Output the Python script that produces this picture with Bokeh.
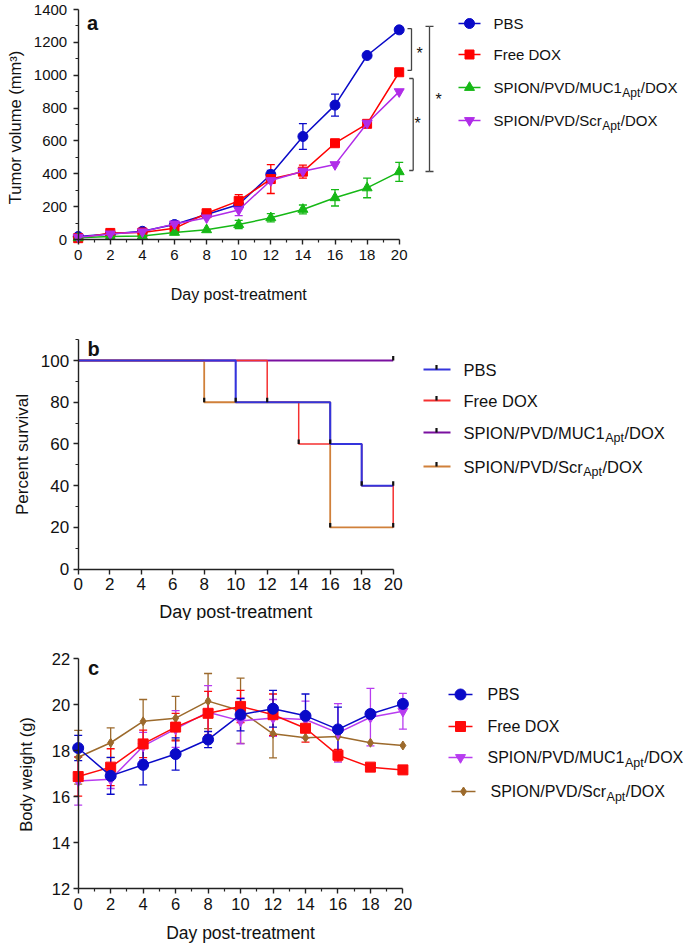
import math
from bokeh.plotting import figure
from bokeh.models import Range1d, FixedTicker, Label
from bokeh.layouts import column
from bokeh.core.properties import value
from bokeh.embed import file_html
from bokeh.resources import INLINE

FONT = "Liberation Sans"

# ---------------- data ----------------
days = [0, 2, 4, 6, 8, 10, 12, 14, 16, 18, 20]
labels_a = ["PBS", "Free DOX", "SPION/PVD/MUC1|Apt|/DOX", "SPION/PVD/Scr|Apt|/DOX"]
labels_b = ["PBS", "Free DOX", "SPION/PVD/MUC1|Apt|/DOX", "SPION/PVD/Scr|Apt|/DOX"]
labels_c = ["PBS", "Free DOX", "SPION/PVD/MUC1|Apt|/DOX", "SPION/PVD/Scr|Apt|/DOX"]

# panel a: tumor volume (mm3)
vol_pbs = [18, 34, 50, 91, 152, 213, 396, 627, 818, 1120, 1276]
vol_pbs_err = [0, 0, 6, 12, 15, 15, 25, 78, 67, 0, 0]
vol_dox = [8, 40, 42, 68, 160, 235, 368, 413, 586, 704, 1018]
vol_dox_err = [0, 0, 0, 0, 15, 38, 88, 40, 0, 0, 0]
vol_muc = [10, 18, 22, 43, 59, 91, 132, 183, 254, 314, 412]
vol_muc_err = [0, 0, 0, 0, 0, 25, 25, 27, 50, 60, 58]
vol_scr = [14, 34, 47, 95, 132, 180, 359, 416, 456, 708, 900]
vol_scr_err = [0, 0, 0, 20, 0, 35, 0, 0, 0, 0, 0]

# significance brackets (panel a)
sig_lo = [1029, 420, 414]
sig_hi = [1284, 980, 1297]

# panel b: percent survival (Kaplan-Meier steps)
surv_pbs_t = [0, 10, 16, 18, 20]
surv_pbs = [100, 80, 60, 40, 40]
surv_dox_t = [0, 12, 14, 18, 20]
surv_dox = [100, 80, 60, 40, 20]
surv_muc_t = [0, 20]
surv_muc = [100, 100]
surv_scr_t = [0, 8, 16, 20]
surv_scr = [100, 80, 20, 20]
cens_t = [8, 10, 12, 14, 16, 16, 18, 20, 20, 20]
cens_s = [80, 80, 80, 60, 60, 20, 40, 40, 20, 100]

# panel c: body weight (g)
bw_pbs = [18.12, 16.91, 17.39, 17.86, 18.49, 19.57, 19.83, 19.52, 18.93, 19.6, 20.04]
bw_pbs_err = [0.55, 0.8, 0.87, 0.7, 0.35, 0.7, 0.8, 0.95, 0.97, 0, 0]
bw_dox = [16.88, 17.29, 18.3, 19.03, 19.63, 19.93, 19.57, 18.98, 17.81, 17.29, 17.17]
bw_dox_err = [0.85, 0.8, 0.6, 0.6, 0.95, 0.7, 0.9, 0.6, 0.25, 0, 0]
bw_muc = [16.69, 16.76, 18.2, 18.95, 19.68, 19.3, 19.43, 19.36, 18.78, 19.46, 19.72]
bw_muc_err = [1.05, 0.4, 0.6, 0.8, 1.15, 1.0, 0.8, 0.8, 1.27, 1.25, 0.78]
bw_scr = [17.72, 18.35, 19.28, 19.42, 20.16, 19.74, 18.74, 18.57, 18.62, 18.35, 18.23]
bw_scr_err = [1.17, 0.65, 0.95, 0.95, 1.2, 1.42, 1.05, 0, 0, 0, 0]

AX = "#222222"
TXT = "#111111"
W = 685
WMAIN = {"SPION/PVD/MUC1": 8557, "SPION/PVD/Scr": 7224}  # Arial advance widths (1/1000 em)


class Panel:
    """Maps page pixel positions (layout only) to the panel's data space."""

    def __init__(self, top, height, x0px, xppd, y_ref_val, y_ref_px, yppu):
        self.top, self.height = top, height
        self.x0px, self.xppd = x0px, xppd
        self.yv, self.ypx, self.yppu = y_ref_val, y_ref_px, yppu

    def X(self, px):
        return (px - self.x0px) / self.xppd

    def Y(self, py):
        return self.yv + (self.ypx - py) / self.yppu

    def fig(self, tick_fs, xstand, ystand, xt, xminor, yt, yminor, xb, yb, yfix):
        p = figure(width=W, height=self.height,
                   x_range=Range1d(self.X(0), self.X(W)),
                   y_range=Range1d(self.Y(self.top + self.height), self.Y(self.top)),
                   output_backend="svg", toolbar_location=None)
        p.min_border = 0
        p.min_border_left = 0
        p.min_border_right = 0
        p.min_border_top = 0
        p.min_border_bottom = 0
        p.outline_line_color = None
        p.grid.visible = False
        for ax in (p.xaxis[0], p.yaxis[0]):
            ax.axis_line_color = AX
            ax.axis_line_width = 1.4
            ax.major_tick_line_color = AX
            ax.minor_tick_line_color = AX
            ax.major_tick_line_width = 1.4
            ax.minor_tick_line_width = 1.2
            ax.major_tick_out = 5
            ax.major_tick_in = 0
            ax.minor_tick_out = 3
            ax.minor_tick_in = 0
            ax.major_label_text_font = FONT
            ax.major_label_text_font_size = tick_fs
            ax.major_label_text_color = TXT
        p.xaxis[0].ticker = FixedTicker(ticks=xt, minor_ticks=xminor)
        p.yaxis[0].ticker = FixedTicker(ticks=yt, minor_ticks=yminor)
        p.xaxis[0].bounds = xb
        p.yaxis[0].bounds = yb
        p.xaxis[0].fixed_location = yfix
        p.yaxis[0].fixed_location = 0
        p.xaxis[0].major_label_standoff = xstand
        p.yaxis[0].major_label_standoff = ystand
        self.p = p
        return p

    def titles(self, xtitle, xpos, xfs, ytitle, ypos, yfs, letter, lpos):
        p = self.p
        p.add_layout(Label(x=10, y=self.Y(xpos[1]), text=xtitle, text_align="center",
                           text_baseline="middle", text_font=FONT, text_font_size=xfs,
                           text_color=TXT))
        p.add_layout(Label(x=self.X(ypos[0]), y=self.Y(ypos[1]), text=ytitle, angle=math.pi / 2,
                           text_align="center", text_baseline="middle", text_font=FONT,
                           text_font_size=yfs, text_color=TXT))
        p.add_layout(Label(x=self.X(lpos[0]), y=self.Y(lpos[1]), text=letter, text_align="center",
                           text_baseline="middle", text_font=FONT, text_font_size="20px",
                           text_font_style="bold", text_color=TXT))

    def legend_text(self, px, py, label, fs, subfs, subdy):
        p = self.p
        x, y = self.X(px), self.Y(py)
        parts = label.split("|")
        p.text(x=[x], y=[y], text=[parts[0]], text_font=value(FONT), text_font_size=fs,
               text_baseline="middle", text_align="left", text_color=TXT)
        if len(parts) > 1:
            fpx = float(fs.replace("px", ""))
            spx = float(subfs.replace("px", ""))
            w0 = WMAIN[parts[0]] * fpx / 1000.0
            w1 = 1501 * spx / 1000.0
            p.text(x=[x], y=[y], text=[parts[1]], x_offset=w0 + 0.5, y_offset=subdy,
                   text_font=value(FONT), text_font_size=subfs, text_baseline="middle",
                   text_align="left", text_color=TXT)
            p.text(x=[x], y=[y], text=[parts[2]], x_offset=w0 + w1 + 1, text_font=value(FONT),
                   text_font_size=fs, text_baseline="middle", text_align="left", text_color=TXT)


def errbars(p, x, y, e, color, cap=8, lw=1.3):
    keep = [i for i, v in enumerate(e) if v > 0]
    xs = [x[i] for i in keep]
    los = [y[i] - e[i] for i in keep]
    his = [y[i] + e[i] for i in keep]
    p.segment(x0=xs, y0=los, x1=xs, y1=his, line_color=color, line_width=lw)
    p.scatter(x=xs + xs, y=los + his, marker="dash", size=cap, line_color=color, line_width=lw)


# ---------------- panel a ----------------
A = Panel(top=0, height=310, x0px=77.7, xppd=16.05, y_ref_val=0, y_ref_px=239, yppu=230 / 1400)
pa = A.fig("15px", 5, 6, list(range(0, 21, 2)), list(range(1, 20, 2)),
           list(range(0, 1401, 200)), list(range(100, 1400, 200)), (0, 20), (0, 1400), 0)
A.titles("Day post-treatment", (239, 294), "16px", "Tumor volume (mm³)", (14, 127), "16.5px",
         "a", (92, 22))

ser_a = [
    (vol_pbs, vol_pbs_err, "#0a0ac8", "circle", 10),
    (vol_dox, vol_dox_err, "#ff0000", "square", 9),
    (vol_muc, vol_muc_err, "#16b816", "triangle", 10),
    (vol_scr, vol_scr_err, "#b02ce8", "inverted_triangle", 10),
]
for vals, err, col, mk, sz in ser_a:
    errbars(pa, days, vals, err, col)
for vals, err, col, mk, sz in ser_a:
    pa.line(days, vals, line_color=col, line_width=1.5)
    pa.scatter(days, vals, marker=mk, size=sz, fill_color=col, line_color=col)

# significance brackets and stars
SIG = "#444444"
sig_x = [A.X(411), A.X(412.7), A.X(429)]
serif = 4 / A.xppd
pa.segment(x0=sig_x, y0=sig_lo, x1=sig_x, y1=sig_hi, line_color=SIG, line_width=1.3)
pa.segment(x0=[v - serif for v in sig_x], y0=sig_hi, x1=sig_x, y1=sig_hi, line_color=SIG, line_width=1.3)
pa.segment(x0=[v - serif for v in sig_x], y0=sig_lo, x1=sig_x, y1=sig_lo, line_color=SIG, line_width=1.3)
pa.segment(x0=[sig_x[2]] * 2, y0=[sig_hi[2], sig_lo[2]], x1=[sig_x[2] + serif] * 2,
           y1=[sig_hi[2], sig_lo[2]], line_color=SIG, line_width=1.3)
pa.text(x=[A.X(419), A.X(417), A.X(438)], y=[A.Y(53), A.Y(123), A.Y(99)], text=["*"] * 3,
        text_font=value(FONT), text_font_size="16px", text_align="center",
        text_baseline="middle", text_color=TXT)

for (vals, err, col, mk, sz), lab, py in zip(ser_a, labels_a, [23, 54, 87, 120]):
    pa.segment(x0=[A.X(458)], y0=[A.Y(py)], x1=[A.X(480)], y1=[A.Y(py)], line_color=col, line_width=1.5)
    pa.scatter([A.X(469)], [A.Y(py)], marker=mk, size=sz, fill_color=col, line_color=col)
    A.legend_text(493, py, lab, "15px", "12px", 5)

# ---------------- panel b ----------------
B = Panel(top=310, height=310, x0px=77.7, xppd=15.75, y_ref_val=0, y_ref_px=568.7, yppu=2.087)
pb = B.fig("17px", 4, 4, list(range(0, 21, 2)), [],
           list(range(0, 101, 20)), list(range(10, 111, 20)), (0, 20), (0, 110), 0)
B.titles("Day post-treatment", (236, 611), "18px", "Percent survival", (22, 454), "17px",
         "b", (93, 348))

ser_b = [
    (surv_muc_t, surv_muc, "#7a10a0", 1.8),
    (surv_scr_t, surv_scr, "#d0803a", 1.8),
    (surv_dox_t, surv_dox, "#f53030", 1.5),
    (surv_pbs_t, surv_pbs, "#3434dc", 2.1),
]
for t, s, col, lw in ser_b:
    pb.step(t, s, mode="after", line_color=col, line_width=lw)
tick_h = 4.5 / B.yppu
pb.segment(x0=cens_t, y0=cens_s, x1=cens_t, y1=[v + tick_h for v in cens_s],
           line_color=TXT, line_width=2.2)

leg_b_cols = ["#3434dc", "#f53030", "#7a10a0", "#d0803a"]
for lab, col, py in zip(labels_b, leg_b_cols, [369, 400, 432, 466]):
    pb.segment(x0=[B.X(423)], y0=[B.Y(py)], x1=[B.X(450)], y1=[B.Y(py)], line_color=col, line_width=1.8)
    pb.segment(x0=[B.X(436)], y0=[B.Y(py)], x1=[B.X(436)], y1=[B.Y(py) + tick_h],
               line_color=TXT, line_width=2.2)
    B.legend_text(463, py, lab, "16.5px", "12.5px", 5)

# ---------------- panel c ----------------
C = Panel(top=620, height=323, x0px=77.7, xppd=16.235, y_ref_val=22, y_ref_px=658.3, yppu=23.0)
pc = C.fig("16.5px", 4, 3, list(range(0, 21, 2)), list(range(1, 20, 2)),
           list(range(12, 23, 2)), [], (0, 20), (12, 22), 12)
C.titles("Day post-treatment", (240, 932), "17.5px", "Body weight (g)", (25, 774), "16.5px",
         "c", (93, 667))

ser_c = [
    (bw_scr, bw_scr_err, "#9c6a2c", "diamond", 9),
    (bw_muc, bw_muc_err, "#b83cf0", "inverted_triangle", 10),
    (bw_dox, bw_dox_err, "#ff0a0a", "square", 10),
    (bw_pbs, bw_pbs_err, "#0a0ac8", "circle", 11),
]
for vals, err, col, mk, sz in ser_c:
    errbars(pc, days, vals, err, col)
for vals, err, col, mk, sz in ser_c:
    pc.line(days, vals, line_color=col, line_width=1.5)
    pc.scatter(days, vals, marker=mk, size=sz, fill_color=col, line_color=col)

leg_c_rows = [(ser_c[3], 694, 448, 487), (ser_c[2], 726, 448, 487),
              (ser_c[1], 757, 448, 487), (ser_c[0], 791, 451, 490)]
for ((vals, err, col, mk, sz), py, lx, tx), lab in zip(leg_c_rows, labels_c):
    pc.segment(x0=[C.X(lx)], y0=[C.Y(py)], x1=[C.X(lx + 24)], y1=[C.Y(py)], line_color=col, line_width=1.5)
    pc.scatter([C.X(lx + 12)], [C.Y(py)], marker=mk, size=sz, fill_color=col, line_color=col)
    C.legend_text(tx, py, lab, "16px", "12.5px", 5)

layout = column(pa, pb, pc)
open("out.html", "w").write(file_html(layout, INLINE))
